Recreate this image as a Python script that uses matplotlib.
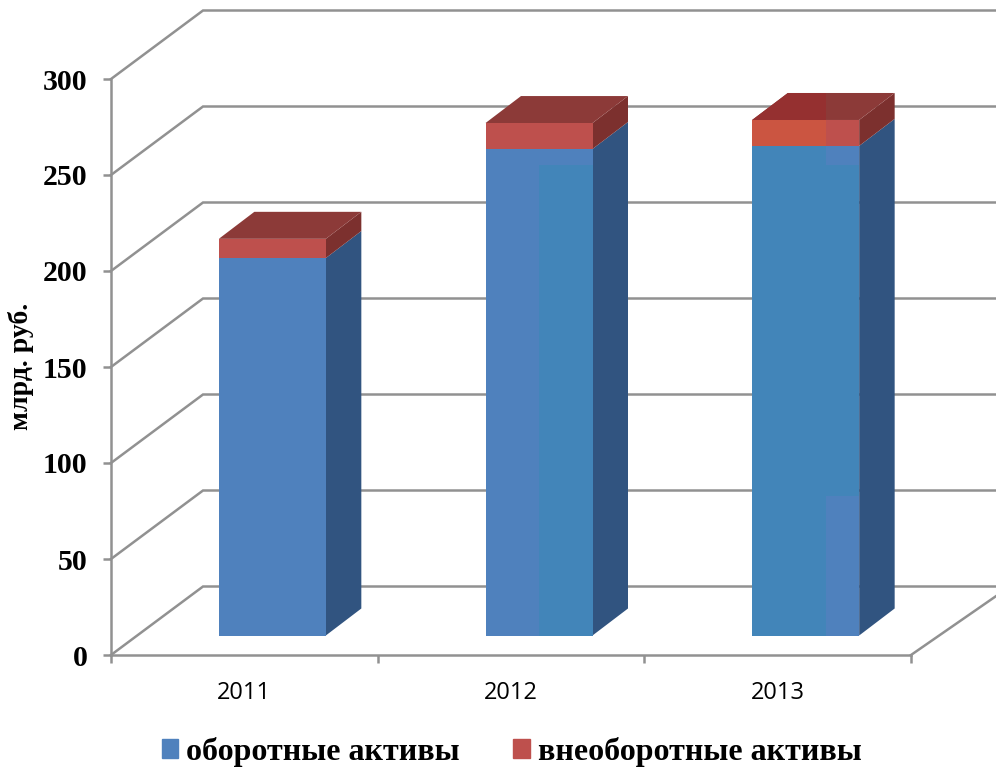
import matplotlib
matplotlib.use("Agg")
import matplotlib.pyplot as plt
from matplotlib.patches import Patch

W, H = 996, 771
years = ["2011", "2012", "2013"]
current_assets = [196.6, 253.4, 255.0]
noncurrent_assets = [10.0, 13.5, 13.5]
yticks = [0, 50, 100, 150, 200, 250, 300]
series_names = ["оборотные активы", "внеоборотные активы"]
ylabel = "млрд. руб."

SERIF = "Liberation Serif"
GRID = "#919191"
LW = 1.8
BLUE, BLUE_SIDE = "#4F81BD", "#315480"
TEAL = "#4285B9"
RED, RED_TOP, RED_SIDE = "#BE504D", "#8C3A38", "#7C302E"
ORANGE, RED_TOP2 = "#CB5541", "#953030"

fig = plt.figure(figsize=(W / 100, H / 100), dpi=100)
ax = fig.add_axes([111 / W, 1 - 655 / H, 800 / W, 576 / H])
ax.set_xlim(-0.5, 2.5)
ax.set_ylim(0, 300)
ax.patch.set_visible(False)

# projection of the 3D box, in data units
upx = 800 / 3          # px per category
upy = 576 / 300        # px per value
DEPTH_X, DEPTH_Y = 92 / upx, 68.5 / upy
FRONT_X, FRONT_Y = 28 / upx, 19.5 / upy
BAR_DX, BAR_DY = 35.5 / upx, 27 / upy
BAR_W = 107 / upx


def poly(xs, ys, color, z):
    ax.fill(xs, ys, color=color, lw=0, zorder=z, clip_on=False)


# walls and gridlines
x0, x1 = -0.5, 2.5
for v in yticks:
    ax.plot([x0, x0 + DEPTH_X, x1 + DEPTH_X], [v, v + DEPTH_Y, v + DEPTH_Y],
            color=GRID, lw=LW, zorder=1, clip_on=False, solid_joinstyle="miter")
ax.plot([x1, x1 + DEPTH_X], [0, DEPTH_Y * 0.93], color=GRID, lw=LW, zorder=1, clip_on=False)

# bars
for i in range(3):
    L = i - BAR_W / 2 + FRONT_X
    R = L + BAR_W
    b = FRONT_Y
    m = b + current_assets[i]
    t = m + noncurrent_assets[i]
    # side faces
    poly([R, R + BAR_DX, R + BAR_DX, R], [b, b + BAR_DY, m + BAR_DY, m], BLUE_SIDE, 3)
    poly([R, R + BAR_DX, R + BAR_DX, R], [m, m + BAR_DY, t + BAR_DY, t], RED_SIDE, 3)
    # top
    poly([L, R, R + BAR_DX, L + BAR_DX], [t, t, t + BAR_DY, t + BAR_DY], RED_TOP, 3)
    # front
    poly([L, R, R, L], [b, b, m, m], BLUE, 4)
    poly([L, R, R, L], [m, m, t, t], RED, 4)

# colour shifts visible on the front faces of the later bars
L1 = 1 - BAR_W / 2 + FRONT_X
R1 = L1 + BAR_W
split1 = L1 + 0.5 * BAR_W
b = FRONT_Y
poly([split1, R1, R1, split1], [b, b, 255, 255], TEAL, 5)

L2 = 2 - BAR_W / 2 + FRONT_X
R2 = L2 + BAR_W
split2 = L2 + 0.69 * BAR_W
m2 = b + current_assets[2]
t2 = m2 + noncurrent_assets[2]
poly([L2, split2, split2, L2], [b, b, m2, m2], TEAL, 5)
poly([split2, R2, R2, split2], [83, 83, 255, 255], TEAL, 5)
poly([L2, split2, split2, L2], [m2, m2, t2, t2], ORANGE, 5)
poly([L2, split2, split2, L2 + BAR_DX], [t2, t2, t2 + BAR_DY, t2 + BAR_DY], RED_TOP2, 5)

# axes
for s in ("top", "right"):
    ax.spines[s].set_visible(False)
for s in ("left", "bottom"):
    ax.spines[s].set_color(GRID)
    ax.spines[s].set_linewidth(LW)
    ax.spines[s].set_zorder(2)

ax.set_yticks(yticks)
ax.tick_params(axis="y", length=5.8, width=LW, color=GRID, pad=11)
for lb in ax.get_yticklabels():
    lb.set_fontfamily(SERIF)
    lb.set_fontweight("bold")
    lb.set_fontsize(21.5)

ax.set_xticks(range(3))
ax.set_xticklabels(years, fontfamily="Open Sans", fontsize=17)
ax.set_xticks([-0.5, 0.5, 1.5, 2.5], minor=True)
ax.tick_params(axis="x", which="major", length=0, pad=18.5)
ax.tick_params(axis="x", which="minor", length=5.8, width=LW, color=GRID)

ax.set_ylabel(ylabel, fontfamily=SERIF, fontweight="bold", fontsize=20)
ax.yaxis.set_label_coords((34 - 111) / 800, (655 - 366) / 576)

handles = [Patch(color=BLUE), Patch(color=RED)]
fig.legend(handles, series_names, loc="center", bbox_to_anchor=(511.5 / W, 1 - 752 / H),
           ncol=2, frameon=False, handlelength=0.53, handleheight=0.53, handletextpad=0.25,
           columnspacing=1.65, borderpad=0,
           prop={"family": SERIF, "weight": "bold", "size": 23})

fig.savefig("out.png", dpi=100)
